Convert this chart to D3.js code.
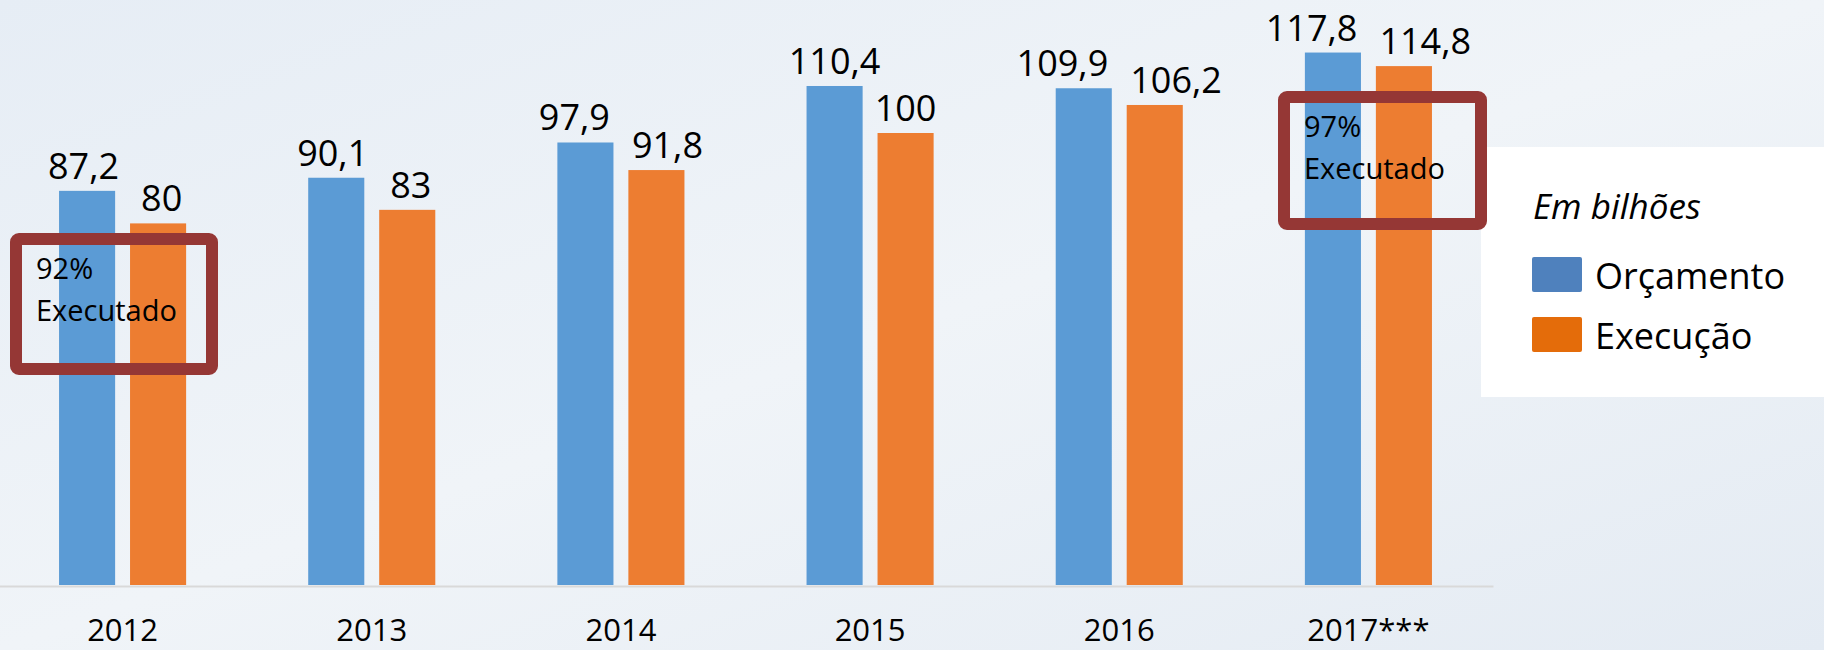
<!DOCTYPE html>
<html>
<head>
<meta charset="utf-8">
<script src="https://cdn.jsdelivr.net/npm/d3@7"></script>
<style>
  body { margin: 0; background: #eaf0f6; }
  svg { display: block; }
  text { font-family: "Open Sans", "Noto Sans", sans-serif; fill: #000; }
</style>
</head>
<body>
<svg width="1824" height="650"></svg>
<script>
// data
var years = ["2012", "2013", "2014", "2015", "2016", "2017***"];
var orcamento = [87.2, 90.1, 97.9, 110.4, 109.9, 117.8];
var execucao = [80, 83, 91.8, 100, 106.2, 114.8];
var seriesNames = ["Orçamento", "Execução"];
var annotations = [
  {year: "2012", pct: "92%", label: "Executado"},
  {year: "2017***", pct: "97%", label: "Executado"}
];

var barColors = ["#5b9bd5", "#ed7d31"];
var legendColors = ["#4f81bd", "#e46c0a"];

var svg = d3.select("svg");

// background, pale bluish like the photo behind the slide
var defs = svg.append("defs");
var grad = defs.append("linearGradient").attr("id", "bg").attr("x1", 0).attr("y1", 0).attr("x2", 1).attr("y2", 1);
grad.append("stop").attr("offset", 0).attr("stop-color", "#e6edf5");
grad.append("stop").attr("offset", 0.5).attr("stop-color", "#f0f4f8");
grad.append("stop").attr("offset", 1).attr("stop-color", "#e4ebf3");
svg.append("rect").attr("width", 1824).attr("height", 650).attr("fill", "url(#bg)");

var baseY = 586;

var x = d3.scaleBand()
  .domain(years)
  .range([-2, 1493])
  .paddingInner(0.49)
  .paddingOuter(0.245);

var x1 = d3.scaleBand()
  .domain(seriesNames)
  .range([0, x.bandwidth()])
  .paddingInner(0.21);

var y = d3.scaleLinear()
  .domain([0, 120])
  .range([baseY - 1, baseY - 1 - 120 * 4.52]);

var rows = years.map(function(yr, i) {
  return {year: yr, values: [orcamento[i], execucao[i]]};
});

// axis with year labels
var axis = d3.axisBottom(x).tickSize(0).tickSizeOuter(0).tickPadding(33);
var gx = svg.append("g").attr("transform", "translate(0," + baseY + ")").call(axis);
gx.select(".domain").attr("stroke", "#d9d9d9").attr("stroke-width", 2);
gx.selectAll(".tick text").style("font-size", "31px").attr("fill", "#000");

// bars
var group = svg.selectAll("g.year")
  .data(rows)
  .enter()
  .append("g")
  .attr("class", "year")
  .attr("transform", function(d) { return "translate(" + x(d.year) + ",0)"; });

group.selectAll("rect")
  .data(function(d) { return d.values.map(function(v, j) { return {name: seriesNames[j], value: v, j: j}; }); })
  .enter()
  .append("rect")
  .attr("x", function(d) { return x1(d.name); })
  .attr("y", function(d) { return y(d.value); })
  .attr("width", x1.bandwidth())
  .attr("height", function(d) { return y(0) - y(d.value); })
  .attr("fill", function(d) { return barColors[d.j]; });

// value labels, comma as decimal separator
group.selectAll("text.val")
  .data(function(d) { return d.values.map(function(v, j) { return {name: seriesNames[j], value: v}; }); })
  .enter()
  .append("text")
  .attr("class", "val")
  .attr("x", function(d) { return x1(d.name) + x1.bandwidth() / 2; })
  .attr("y", function(d) { return y(d.value) - 12; })
  .attr("text-anchor", "middle")
  .style("font-size", "36px")
  .text(function(d) { return String(d.value).replace(".", ","); });

// push the two labels of a pair apart when they would collide (as in the slide)
var minGap = 22;
group.each(function() {
  var labels = d3.select(this).selectAll("text.val").nodes();
  var a = labels[0].getBBox(), b = labels[1].getBBox();
  var vOverlap = Math.abs(a.y - b.y) < a.height * 0.85;
  var need = (a.x + a.width + minGap) - b.x;
  if (vOverlap && need > 0) {
    d3.select(labels[0]).attr("x", +labels[0].getAttribute("x") - need / 2);
    d3.select(labels[1]).attr("x", +labels[1].getAttribute("x") + need / 2);
  }
});

// legend panel
var legend = svg.append("g");
legend.append("rect")
  .attr("x", 1481).attr("y", 147).attr("width", 343).attr("height", 250)
  .attr("fill", "#fff").attr("opacity", 0.97);
legend.append("text")
  .attr("x", 1533).attr("y", 219)
  .style("font-size", "35px").style("font-style", "italic")
  .text("Em bilhões");
seriesNames.forEach(function(name, i) {
  legend.append("rect")
    .attr("x", 1532).attr("y", 257 + i * 60)
    .attr("width", 50).attr("height", 35).attr("rx", 2)
    .attr("fill", legendColors[i]);
  legend.append("text")
    .attr("x", 1595).attr("y", 289 + i * 60)
    .style("font-size", "36px")
    .text(name);
});

// "% executado" boxes
var boxPos = {"2012": [16, 239, 196, 130], "2017***": [1284, 97, 197, 127]};
annotations.forEach(function(a) {
  var b = boxPos[a.year];
  var g = svg.append("g");
  g.append("rect")
    .attr("x", b[0]).attr("y", b[1]).attr("width", b[2]).attr("height", b[3])
    .attr("rx", 3)
    .attr("fill", "none").attr("stroke", "#953735").attr("stroke-width", 12);
  g.append("text").attr("x", b[0] + 20).attr("y", b[1] + 40)
    .style("font-size", "29px").text(a.pct);
  g.append("text").attr("x", b[0] + 20).attr("y", b[1] + 82)
    .style("font-size", "29px").text(a.label);
});
</script>
</body>
</html>
